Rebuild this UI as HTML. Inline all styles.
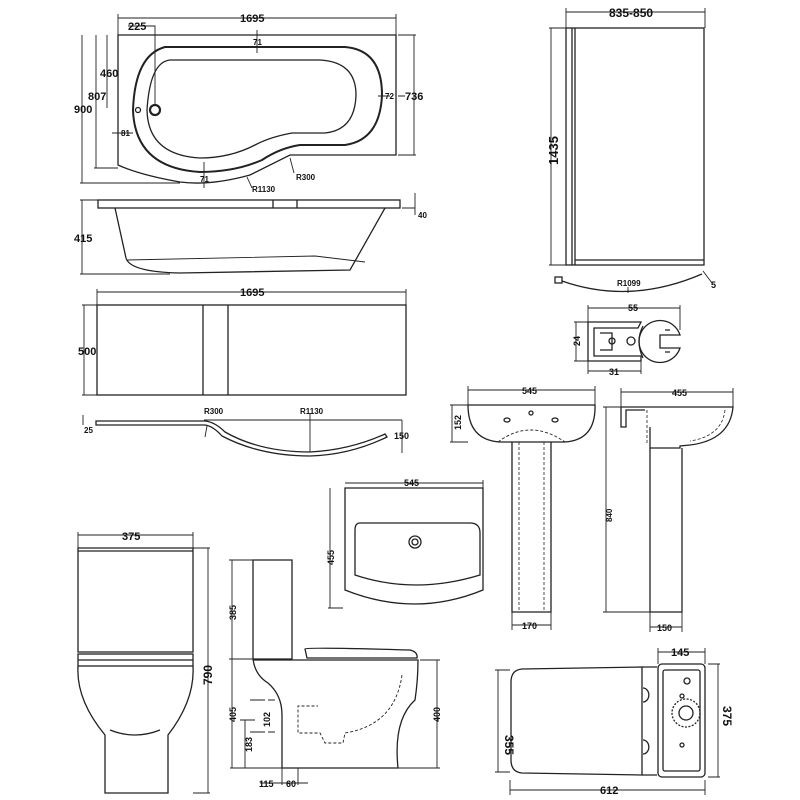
<!DOCTYPE html>
<html><head><meta charset="utf-8"><style>
html,body{margin:0;padding:0;background:#fff}
svg{display:block}
text{font-family:"Liberation Sans",sans-serif;font-weight:bold;fill:#111}
</style></head><body>
<svg width="800" height="800" viewBox="0 0 800 800" xmlns="http://www.w3.org/2000/svg">
<g fill="none" stroke="#222" stroke-width="1.3">
<path d="M118 35 H396 V155 H290 Q270 165 250 175 Q210 186 180 182 Q140 175 118 165 Z"/>
<path d="M165 47 H345 Q382 50 382 95 Q380 140 345 145 H300 Q280 148 262 160 Q235 172 200 172 Q135 168 133 110 Q135 55 165 47 Z" stroke-width="2"/>
<path d="M170 60 H320 Q356 62 356 95 Q355 130 325 133 H292 Q270 137 255 145 Q230 158 200 158 Q148 155 147 110 Q150 62 170 60 Z"/>
<circle cx="155" cy="110" r="5" stroke-width="2.2"/><circle cx="138" cy="110" r="2.5"/>
<g stroke-width="0.9">
<path d="M118 18 H396 M118 14 V35 M396 14 V35"/>
<path d="M128 26 H155 V105"/>
<path d="M82 35 V183 M96 35 V168 M107 35 V108 M80 183 H180 M94 168 H118"/>
<path d="M414 35 V155 M398 35 H416 M398 155 H416"/>
<path d="M257 30 V53 M204 162 V188 M112 133 H133 M378 96 H390 M398 96 H405"/>
<path d="M247 177 L252 188 M290 158 L294 173"/>
</g>
</g>
<g font-size="11">
<text x="240" y="22">1695</text><text x="128" y="30">225</text>
<text x="253" y="45" font-size="8">71</text>
<text x="100" y="77">460</text><text x="88" y="100">807</text><text x="74" y="113">900</text>
<text x="121" y="136" font-size="8">81</text><text x="385" y="99" font-size="8">72</text>
<text x="405" y="100">736</text>
<text x="200" y="182" font-size="8">71</text><text x="252" y="192" font-size="8">R1130</text>
<text x="296" y="180" font-size="8">R300</text>
</g>
<g fill="none" stroke="#222" stroke-width="1.3">
<rect x="98" y="200" width="302" height="8"/>
<path d="M273 200 V208 M297 200 V208"/>
<path d="M115 208 L126 258 Q130 272 180 273 L350 270 L385 208"/>
<path d="M127 260 L315 256 L365 262" stroke-width="0.9"/>
<g stroke-width="0.9"><path d="M82 200 V274 M80 200 H98 M80 274 H170 M415 193 V215 M402 208 H415"/></g>
</g>
<text x="74" y="242" font-size="11">415</text><text x="418" y="218" font-size="8">40</text>
<g fill="none" stroke="#222" stroke-width="1.3">
<rect x="97" y="305" width="309" height="90"/>
<path d="M203 305 V395 M228 305 V395"/>
<g stroke-width="0.9"><path d="M97 292 H406 M97 289 V305 M406 289 V305 M84 305 V395 M82 305 H97 M82 395 H97"/></g>
<path d="M96 421 H205 Q215 422 225 432 Q260 452 310 452 Q350 450 385 434 L387 437 Q350 455 310 456 Q260 456 222 436 Q213 426 205 425 H96 Z"/>
<g stroke-width="0.9"><path d="M204 420 H402 M402 420 V453 M310 413 V452 M83 415 V425 M207 426 L205 437"/></g>
</g>
<g font-size="11"><text x="240" y="296">1695</text><text x="78" y="355">500</text></g>
<g font-size="8"><text x="204" y="414">R300</text><text x="300" y="414">R1130</text><text x="84" y="433">25</text><text x="394" y="439" font-size="9">150</text></g>
<!-- SHOWER SCREEN -->
<g fill="none" stroke="#222" stroke-width="1.3">
<rect x="566" y="28" width="138" height="237"/>
<path d="M572 28 V265 M575 28 V265 M575 260 H704"/>
<path d="M562 281 Q630 305 702 274"/>
<rect x="555" y="277" width="7" height="6"/>
<g stroke-width="0.9"><path d="M566 12 H705 M566 8 V28 M705 8 V28 M551 28 V265 M549 28 H566 M549 265 H566 M628 287 V293 M703 271 L712 283"/></g>
</g>
<g font-size="12"><text x="609" y="17">835-850</text>
<text x="558" y="165" transform="rotate(-90 558 165)" font-size="13">1435</text></g>
<text x="617" y="286" font-size="8">R1099</text><text x="711" y="288" font-size="9">5</text>
<g fill="none" stroke="#222" stroke-width="1.3">
<path d="M588 322 H641 L638 328 H594 V356 H641 V361 H588 Z"/>
<path d="M600 333 H612 V350 H600"/>
<circle cx="612" cy="341" r="3"/><circle cx="631" cy="341" r="4"/>
<path d="M643 326 Q635 341 643 358"/>
<path d="M680 335 A21 21 0 1 0 680 348 L660 348 V335 Z"/>
<path d="M665 330 h5 M665 352 h5"/>
<g stroke-width="0.9"><path d="M588 308 H680 M588 305 V322 M680 305 V330 M576 322 V361 M574 322 H588 M574 361 H588 M588 371 H641 M588 361 V374 M641 361 V374"/></g>
</g>
<g font-size="9"><text x="628" y="311">55</text><text x="580" y="346" transform="rotate(-90 580 346)">24</text><text x="609" y="375">31</text></g>
<g fill="none" stroke="#222" stroke-width="1.3">
<path d="M468 405 H595 Q596 440 565 442 H500 Q468 440 468 405 Z"/>
<path d="M498 442 Q530 418 565 442" stroke-dasharray="3 2" stroke-width="0.9"/>
<ellipse cx="507" cy="420" rx="3" ry="2"/><ellipse cx="555" cy="420" rx="3" ry="2"/><circle cx="531" cy="413" r="2"/>
<path d="M512 442 V612 H551 V442"/>
<path d="M519 442 V612 M544 442 V612" stroke-dasharray="3 2" stroke-width="0.8"/>
<g stroke-width="0.9"><path d="M468 390 H595 M468 386 V405 M595 386 V405 M452 405 V442 M450 405 H468 M450 442 H468 M512 625 H551 M512 612 V630 M551 612 V630"/></g>
</g>
<g font-size="9"><text x="522" y="394">545</text><text x="461" y="430" transform="rotate(-90 461 430)">152</text><text x="522" y="629">170</text></g>
<g fill="none" stroke="#222" stroke-width="1.3">
<path d="M621 407 H733 Q730 440 690 445 L680 446 V448 H650 V427 M621 407 V427 H626 V410 H645"/>
<path d="M650 448 V612 H682 V448"/>
<path d="M647 410 V445 M725 410 Q722 436 690 441" stroke-dasharray="3 2" stroke-width="0.8"/>
<g stroke-width="0.9"><path d="M621 392 H733 M621 388 V407 M733 388 V407 M606 407 V612 M603 407 H621 M603 612 H650 M650 627 H682 M650 612 V632 M682 612 V632"/></g>
</g>
<g font-size="9"><text x="672" y="396">455</text><text x="612" y="522" transform="rotate(-90 612 522)" font-size="8">840</text><text x="657" y="631">150</text></g>
<g fill="none" stroke="#222" stroke-width="1.3">
<path d="M345 488 H483 V590 Q415 618 345 590 Z"/>
<path d="M360 523 H470 Q480 523 480 533 V575 Q415 595 355 575 V530 Q355 523 360 523 Z"/>
<circle cx="415" cy="542" r="6"/><circle cx="415" cy="542" r="3"/>
<g stroke-width="0.9"><path d="M345 483 H483 M483 480 V498 M330 488 V608 M328 608 H343"/></g>
</g>
<g font-size="9"><text x="404" y="486">545</text><text x="334" y="565" transform="rotate(-90 334 565)">455</text></g>
<g fill="none" stroke="#222" stroke-width="1.3">
<path d="M78 548 H193 V652 H78 Z M78 551 H193"/>
<rect x="78" y="654" width="115" height="12"/><path d="M78 660 H193"/>
<path d="M78 666 Q76 700 105 735 V793 H168 V735 Q195 700 193 666"/>
<path d="M110 730 Q135 740 160 730"/>
<g stroke-width="0.9"><path d="M78 535 H193 M78 532 V548 M193 532 V548 M208 548 V793 M193 548 H210 M193 793 H210"/></g>
</g>
<text x="122" y="540" font-size="11">375</text>
<text x="212" y="685" transform="rotate(-90 212 685)" font-size="12">790</text>
<g fill="none" stroke="#222" stroke-width="1.3">
<path d="M253 560 H292 V659 H253 Z"/>
<path d="M253 659 Q255 675 268 683 Q282 695 282 715 V768 H398 Q393 720 415 700 Q418 680 418 660 H253"/>
<path d="M305 649 Q306 647 410 650 Q418 652 417 658 H307 Z"/>
<path d="M402 675 Q395 725 345 733 L343 743 H325 L320 733 H298 V706 H318" stroke-dasharray="3 2" stroke-width="0.9"/>
<g stroke-width="0.9"><path d="M230 768 H440 M232 560 V768 M229 560 H253 M229 659 H253 M437 660 V768 M420 660 H440 M250 700 H265 M250 732 H265 M268 700 H275 M268 732 H275 M245 720 V768 M240 720 H255 M282 768 V785 M298 768 V785 M260 783 H308"/></g>
</g>
<g font-size="9">
<text x="236" y="620" transform="rotate(-90 236 620)">385</text>
<text x="236" y="722" transform="rotate(-90 236 722)">405</text>
<text x="270" y="727" transform="rotate(-90 270 727)">102</text>
<text x="252" y="752" transform="rotate(-90 252 752)">183</text>
<text x="440" y="722" transform="rotate(-90 440 722)">400</text>
<text x="259" y="787">115</text><text x="286" y="787">60</text>
</g>
<g fill="none" stroke="#222" stroke-width="1.3">
<path d="M522 669 L642 667 V775 L522 773 Q511 772 511 760 V682 Q511 670 522 669 Z"/>
<path d="M642 667 H657 M642 775 H657"/>
<path d="M643 688 a5 6 0 0 1 0 14 M643 740 a5 6 0 0 1 0 14"/>
<rect x="658" y="664" width="47" height="113" rx="4"/>
<rect x="663" y="670" width="37" height="101" rx="2"/>
<circle cx="686" cy="713" r="14" stroke-dasharray="2 1.5"/><circle cx="686" cy="713" r="7"/>
<circle cx="687" cy="681" r="3"/><circle cx="682" cy="696" r="2"/><circle cx="682" cy="745" r="2"/>
<g stroke-width="0.9"><path d="M658 652 H705 M658 648 V664 M705 648 V664 M718 664 V777 M708 664 H720 M708 777 H720 M498 670 V772 M495 670 H510 M495 772 H510 M510 790 H705 M510 780 V795 M705 780 V795"/></g>
</g>
<g font-size="11"><text x="671" y="656">145</text><text x="600" y="794">612</text>
<text x="505" y="735" transform="rotate(90 505 735)" font-size="12">355</text>
<text x="723" y="706" transform="rotate(90 723 706)" font-size="12">375</text></g>
</svg>
</body></html>
